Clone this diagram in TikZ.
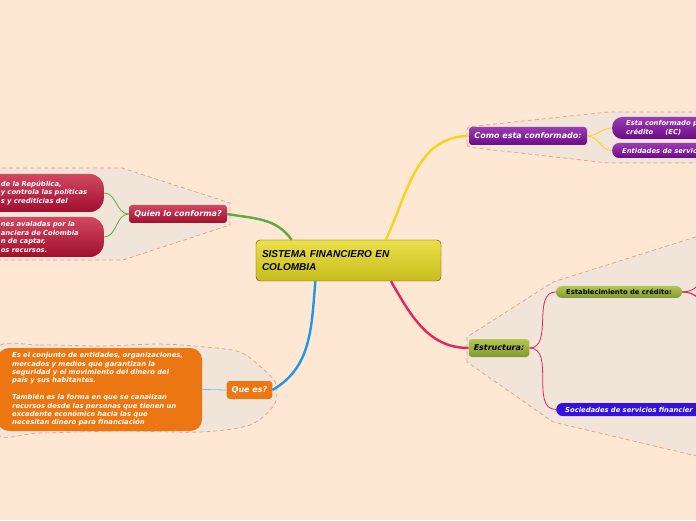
\documentclass[tikz,border=0pt]{standalone}
\usepackage{fontspec}
\setsansfont{DejaVu Sans}
\newfontfamily\titlefont{Liberation Sans}
\usepackage{tikz}
\usetikzlibrary{calc}
\definecolor{Paper}{HTML}{FEE8D3}
\definecolor{ZoneFill}{HTML}{F0E5D8}
\definecolor{ZoneLine}{HTML}{EC9A7E}
\definecolor{CoreTop}{HTML}{E9E04A}
\definecolor{CoreBot}{HTML}{C9BD1C}
\definecolor{CoreLine}{HTML}{5C3A0E}
\definecolor{RedTop}{HTML}{D04862}
\definecolor{RedBot}{HTML}{A10E2E}
\definecolor{Orange}{HTML}{EC7612}
\definecolor{PurpTop}{HTML}{9C3CB4}
\definecolor{PurpBot}{HTML}{6A0C86}
\definecolor{OliveTop}{HTML}{B4C656}
\definecolor{OliveBot}{HTML}{809A2E}
\definecolor{Indigo}{HTML}{3412DE}
\definecolor{GreenLine}{HTML}{5DAA45}
\definecolor{BlueLine}{HTML}{1E98E6}
\definecolor{YellowLine}{HTML}{F7D21E}
\definecolor{PinkLine}{HTML}{E6245C}
\definecolor{SkyLine}{HTML}{7DBCE6}

\begin{document}
\begin{tikzpicture}[x=1pt,y=1pt,
  topic/.style={rounded corners=3pt,minimum height=18pt,inner xsep=5pt,inner ysep=0pt,font=\sffamily\bfseries\itshape\fontsize{8}{10}\selectfont,text=white},
  leaf/.style={rounded corners=6pt,inner xsep=9pt,inner ysep=0pt,align=left,font=\sffamily\bfseries\itshape\fontsize{6.8}{8.4}\selectfont,text=white},
  zone/.style={draw=ZoneLine,fill=ZoneFill,dash pattern=on 4pt off 3pt,line width=0.7pt},
  branch/.style={line width=2.4pt},
  twig/.style={line width=0.8pt}
]
  \clip (0,0) rectangle (696,520);
  \fill[Paper] (0,0) rectangle (696,520);
  % boundaries
  \path[zone] (-5,352) -- (122,352) -- (230,317) -- (230,295) -- (123,260) -- (-5,260) -- cycle;
  \path[zone,rounded corners=3pt] (467,373) -- (467,393) -- (608,408) -- (705,408) -- (705,357) -- (608,357) -- cycle;
  \path[zone] (467,158) -- (467,183) -- (553,238) -- (705,286) -- (705,62) -- (553,98) -- cycle;
  \path[zone] plot[smooth cycle] coordinates {(-5,170) (40,175) (100,174) (160,176) (205,173) (240,168) (262,152) (276,136) (274,115) (250,95) (200,88) (120,89) (40,87) (-5,88)};
  % central topic
  \node[draw=CoreLine,top color=CoreTop,bottom color=CoreBot,rounded corners=4pt,minimum width=185pt,minimum height=41pt,text width=173pt,inner xsep=6pt,align=left,font=\titlefont\bfseries\itshape\fontsize{10}{13}\selectfont] (core) at (348.5,259.5) {SISTEMA FINANCIERO EN\\COLOMBIA};
  % left side
  \node[topic,top color=RedTop,bottom color=RedBot,minimum width=98pt] (quien) at (178,306) {Quien lo conforma?};
  \node[leaf,top color=RedTop,bottom color=RedBot,rounded corners=14pt,minimum height=38pt,text width=124pt,inner xsep=3pt,anchor=east] (banco) at (104,327) {\leftskip=24pt de la República,\\y controla las políticas\\s y crediticias del\par};
  \node[leaf,top color=RedTop,bottom color=RedBot,rounded corners=14pt,minimum height=40pt,text width=124pt,inner xsep=3pt,anchor=east] (entid) at (104,283) {\leftskip=24pt nes avaladas por la\\anciera de Colombia\\n de captar,\\os recursos.\par};
  \node[topic,fill=Orange,minimum width=45pt] (quees) at (249.5,130) {Que es?};
  \node[leaf,fill=Orange,rounded corners=12pt,minimum height=83pt,text width=175pt,inner xsep=15pt,anchor=west] (def) at (-3,130.5) {Es el conjunto de entidades, organizaciones,\\mercados y medios que garantizan la\\seguridad y el movimiento del dinero del\\país y sus habitantes.\\[8.4pt]También es la forma en que se canalizan\\recursos desde las personas que tienen un\\excedente económico hacia las que\\necesitan dinero para financiación};
  % right side
  \node[topic,top color=PurpTop,bottom color=PurpBot,minimum width=118pt] (como) at (528,384) {Como esta conformado:};
  \node[leaf,top color=PurpTop,bottom color=PurpBot,rounded corners=10pt,minimum height=22pt,text width=100pt,inner xsep=14pt,anchor=west] (esta) at (612,392) {Esta conformado p\\crédito\hspace{12pt}(EC)};
  \node[leaf,top color=PurpTop,bottom color=PurpBot,rounded corners=7pt,minimum height=15pt,text width=100pt,inner xsep=10pt,anchor=west] (serv) at (612,369.5) {Entidades de servic};
  \node[topic,top color=OliveTop,bottom color=OliveBot,minimum width=60pt,text=black] (estr) at (499,172) {Estructura:};
  \node[leaf,top color=OliveTop,bottom color=OliveBot,rounded corners=6pt,minimum height=12pt,minimum width=126pt,inner xsep=0pt,text=black,font=\sffamily\bfseries\fontsize{6.8}{8.4}\selectfont] (estab) at (619,228) {Establecimiento de crédito:};
  \node[leaf,fill=Indigo,rounded corners=6.5pt,minimum height=13pt,text width=150pt,inner xsep=9pt,anchor=west] (soc) at (556,110.5) {Sociedades de servicios financier};
  \coordinate (up) at (704,300);
  \coordinate (mid) at (730,205);
  \coordinate (down) at (704,150);
  % connectors
  \draw[branch,draw=GreenLine] (core.160) to[out=125,in=-10] (quien.east);
  \draw[branch,draw=BlueLine] (core.212) to[out=-95,in=30] (quees.east);
  \draw[branch,draw=YellowLine] (core.29) to[out=65,in=180] (como.west);
  \draw[branch,draw=PinkLine] (core.334) to[out=-60,in=180] (estr.west);
  \draw[twig,draw=GreenLine] (quien.west) to[out=180,in=0] (banco.east);
  \draw[twig,draw=GreenLine] (quien.west) to[out=180,in=0] (entid.east);
  \draw[twig,draw=SkyLine] (quees.west) -- (def.east);
  \draw[twig,draw=YellowLine] (como.east) to[out=0,in=180] (esta.west);
  \draw[twig,draw=YellowLine] (como.east) to[out=0,in=180] (serv.west);
  \draw[twig,draw=PinkLine] (estr.east) to[out=0,in=180] (estab.west);
  \draw[twig,draw=PinkLine] (estr.east) to[out=0,in=180] (soc.west);
  \draw[twig,draw=PinkLine] (estab.east) to[out=0,in=-90] (up);
  \draw[twig,draw=PinkLine] (estab.east) to[out=0,in=180] (mid);
  \draw[twig,draw=PinkLine] (estab.east) to[out=0,in=90] (down);
\end{tikzpicture}
\end{document}
